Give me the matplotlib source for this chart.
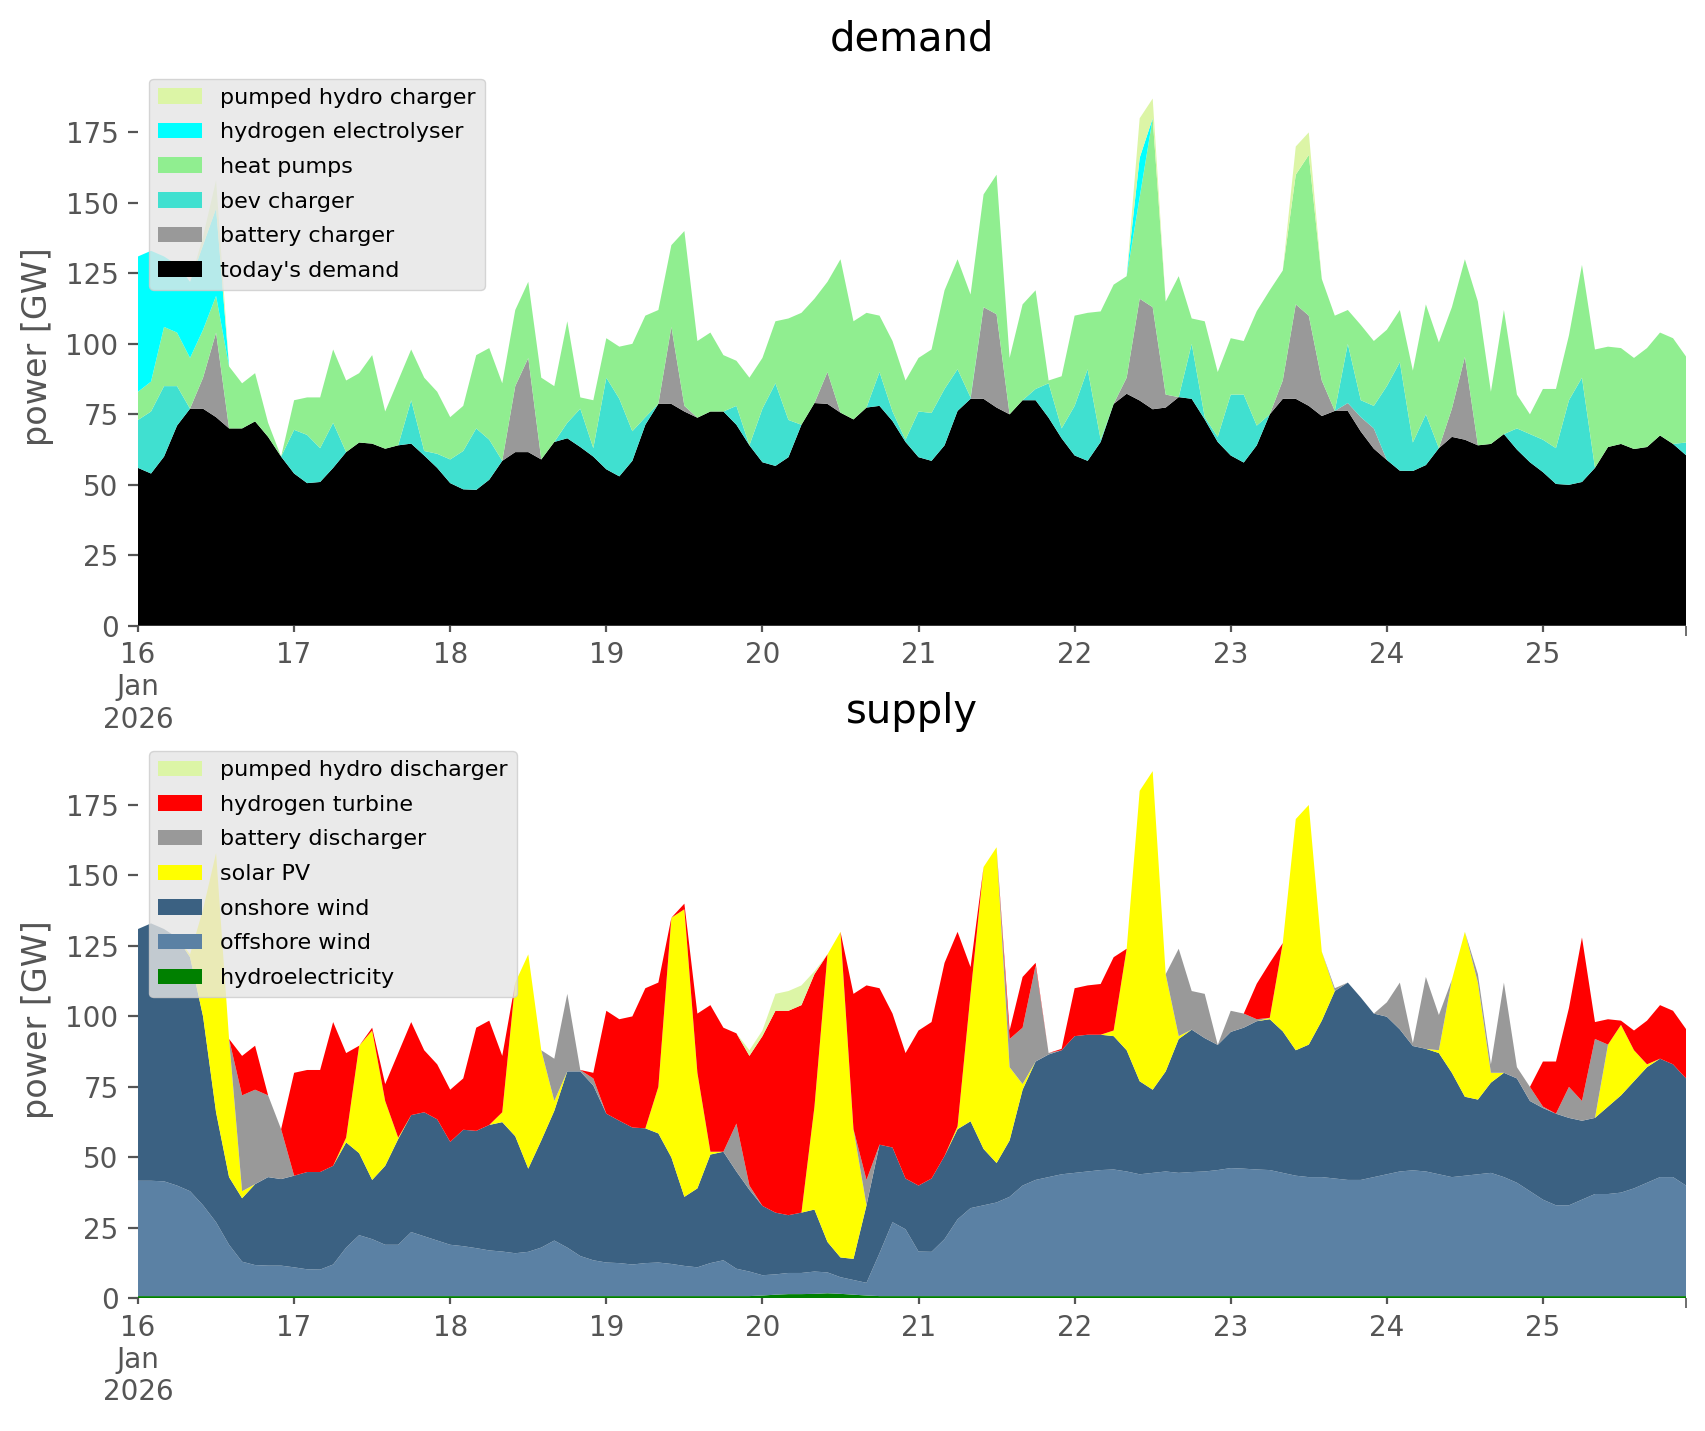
import pandas as pd
import matplotlib
matplotlib.use("Agg")
import matplotlib.pyplot as plt

# two-hourly values, 16 Jan 00:00 .. 25 Jan 22:00 (GW), one row per day
times = pd.date_range("2026-01-16 00:00", periods=120, freq="2h")

# ---- demand side ----
todays_demand = [
    56, 54, 60, 71, 77, 77, 74, 70, 70, 72.5, 67, 60,
    54, 50.6, 51, 56, 61.6, 65, 64.6, 62.8, 64, 64.6, 60.4, 56,
    50.6, 48.4, 48.2, 51.8, 58.5, 61.6, 61.6, 59, 65.2, 66.5, 63.4, 60,
    55.5, 53, 58.5, 71.3, 78.7, 78.7, 76, 73.8, 76, 76, 71.3, 64,
    58, 56.7, 59.8, 71.3, 79, 78.7, 75.6, 73.2, 77.4, 78, 72.6, 65.2,
    59.8, 58.5, 64, 76.2, 80.5, 80.5, 77.4, 75, 80, 80, 73.8, 66.5,
    60.4, 58.5, 65.2, 78.7, 82.3, 79.9, 76.8, 77.4, 81.1, 80.5, 73.2, 65.2,
    60.4, 57.9, 64, 75, 80.5, 80.5, 78, 74.4, 76.2, 76.2, 68.9, 62.8,
    58.8, 55, 54.9, 57, 63, 67, 66, 64, 64.5, 68, 62.5, 58,
    54.5, 50.3, 50, 51, 56, 63.4, 64.5, 62.7, 63.4, 67.5, 64.5, 60.5,
]
battery_charger = [
    0, 0, 0, 0, 0, 11, 30, 0, 0, 0, 0, 0,
    0, 0, 0, 0, 0, 0, 0, 0, 0, 0, 0, 0,
    0, 0, 0, 0, 0, 23.4, 33.4, 0, 0, 0, 0, 0,
    0, 0, 0, 0, 0, 27.3, 2, 0, 0, 0, 0, 0,
    0, 0, 0, 0, 0, 11.3, 0, 0, 0, 0, 0, 0,
    0, 0, 0, 0, 0, 32.5, 33.1, 0, 0, 0, 0, 0,
    0, 0, 0, 0, 5.7, 36.1, 36.2, 4.6, 0, 0, 0, 0,
    0, 0, 0, 0, 6.5, 33.5, 32, 12.6, 0, 2.8, 5.1, 7.2,
    0, 0, 0, 0, 0, 10, 29.4, 0, 0, 0, 0, 0,
    0, 0, 0, 0, 0, 0, 0, 0, 0, 0, 0, 0,
]
bev_charger = [
    17, 22, 25, 14, 0, 0, 0, 0, 0, 0, 0, 0,
    15.5, 17.1, 12, 16, 0, 0, 0, 0, 0, 15.4, 1.6, 5,
    8.4, 13.6, 21.8, 14.2, 0, 0, 0, 0, 0, 5.5, 13.6, 3,
    32.5, 27.5, 10.5, 2.7, 0, 0, 0, 0, 0, 0, 6.7, 0,
    19, 29.3, 13.2, 0, 0, 0, 0, 0, 0, 12, 3.4, 0.8,
    16.2, 17, 20, 14.8, 0.5, 0, 0, 0, 0, 4, 12.2, 3.5,
    17.6, 32.5, 0.8, 0, 0, 0, 0, 0, 0, 19.5, 0.8, 1.8,
    21.6, 24.1, 7, 0, 0, 0, 0, 0, 0, 21, 6, 8,
    26.2, 38.5, 10.1, 18, 0, 0, 0, 0, 0, 0, 7.5, 10,
    11.5, 12.7, 30, 37, 0, 0, 0, 0, 0, 0, 0, 4.5,
]
heat_pumps = [
    10, 10.6, 21, 19, 18, 17, 13, 22, 16, 17.1, 5, 0,
    10.5, 13.3, 18, 26, 25.4, 24.6, 31.4, 13.2, 23, 18, 26, 22,
    15, 16, 26, 32.5, 27.5, 27, 27, 29, 19.8, 36, 4, 17,
    14, 18.5, 31, 36, 33.3, 29, 62, 27.2, 28, 20, 16, 24,
    18, 22, 36, 39.7, 37, 32, 54.4, 34.8, 33.6, 20, 25, 21,
    19, 22.5, 35, 39, 36.5, 40, 49.5, 20, 34, 35, 1, 18.5,
    32, 20, 45.5, 42.3, 36, 36, 67, 33, 42.9, 9, 34, 23,
    20, 19, 40.6, 44, 39, 46, 57, 36, 33.8, 12, 26.7, 23,
    20, 18.5, 25.5, 39, 37.5, 36, 34.6, 51, 18.5, 44, 12, 7,
    18, 21, 23, 40, 42, 35.6, 34, 32.3, 35.1, 36.5, 37.5, 30.5,
]
hydrogen_electrolyser = [
    48, 46.4, 25, 24, 27, 30, 31, 0, 0, 0, 0, 0,
    0, 0, 0, 0, 0, 0, 0, 0, 0, 0, 0, 0,
    0, 0, 0, 0, 0, 0, 0, 0, 0, 0, 0, 0,
    0, 0, 0, 0, 0, 0, 0, 0, 0, 0, 0, 0,
    0, 0, 0, 0, 0, 0, 0, 0, 0, 0, 0, 0,
    0, 0, 0, 0, 0, 0, 0, 0, 0, 0, 0, 0,
    0, 0, 0, 0, 0, 14, 0, 0, 0, 0, 0, 0,
    0, 0, 0, 0, 0, 0, 0, 0, 0, 0, 0, 0,
    0, 0, 0, 0, 0, 0, 0, 0, 0, 0, 0, 0,
    0, 0, 0, 0, 0, 0, 0, 0, 0, 0, 0, 0,
]
pumped_hydro_charger = [
    0, 0, 0, 0, 0, 3, 10, 0, 0, 0, 0, 0,
    0, 0, 0, 0, 0, 0, 0, 0, 0, 0, 0, 0,
    0, 0, 0, 0, 0, 0, 0, 0, 0, 0, 0, 0,
    0, 0, 0, 0, 0, 0, 0, 0, 0, 0, 0, 0,
    0, 0, 0, 0, 0, 0, 0, 0, 0, 0, 0, 0,
    0, 0, 0, 0, 0, 0, 0, 0, 0, 0, 0, 0,
    0, 0, 0, 0, 0, 14, 7, 0, 0, 0, 0, 0,
    0, 0, 0, 0, 0, 10, 8, 0, 0, 0, 0, 0,
    0, 0, 0, 0, 0, 0, 0, 0, 0, 0, 0, 0,
    0, 0, 0, 0, 0, 0, 0, 0, 0, 0, 0, 0,
]

# ---- supply side ----
hydroelectricity = [
    0.8, 0.8, 0.8, 0.8, 0.8, 0.8, 0.8, 0.8, 0.8, 0.8, 0.8, 0.8,
    0.8, 0.8, 0.8, 0.8, 0.8, 0.8, 0.8, 0.8, 0.8, 0.8, 0.8, 0.8,
    0.8, 0.8, 0.8, 0.8, 0.8, 0.8, 0.8, 0.8, 0.8, 0.8, 0.8, 0.8,
    0.8, 0.8, 0.8, 0.8, 0.8, 0.8, 0.8, 0.8, 0.8, 0.8, 0.8, 0.8,
    1.0, 1.3, 1.5, 1.5, 1.6, 1.8, 1.6, 1.3, 1.0, 0.8, 0.8, 0.8,
    0.8, 0.8, 0.8, 0.8, 0.8, 0.8, 0.8, 0.8, 0.8, 0.8, 0.8, 0.8,
    0.8, 0.8, 0.8, 0.8, 0.8, 0.8, 0.8, 0.8, 0.8, 0.8, 0.8, 0.8,
    0.8, 0.8, 0.8, 0.8, 0.8, 0.8, 0.8, 0.8, 0.8, 0.8, 0.8, 0.8,
    0.8, 0.8, 0.8, 0.8, 0.8, 0.8, 0.8, 0.8, 0.8, 0.8, 0.8, 0.8,
    0.8, 0.8, 0.8, 0.8, 0.8, 0.8, 0.8, 0.8, 0.8, 0.8, 0.8, 0.8,
]
offshore_wind = [
    40.9, 40.9, 40.7, 39.2, 37.2, 32.2, 26.2, 18.2, 12.2, 11.0, 10.8, 10.8,
    10.2, 9.5, 9.4, 11.2, 17.2, 21.6, 20.2, 18.2, 18.2, 22.7, 21.2, 19.7,
    18.2, 17.7, 17.0, 16.2, 15.8, 15.2, 15.7, 17.2, 19.7, 17.2, 14.2, 12.7,
    11.9, 11.7, 11.2, 11.7, 11.9, 11.4, 10.7, 10.2, 11.7, 12.7, 9.7, 8.7,
    7.2, 7.2, 7.5, 7.5, 7.9, 7.4, 5.9, 5.2, 4.5, 15.2, 26.2, 23.7,
    15.8, 15.7, 20.2, 27.2, 31.2, 32.2, 33.2, 35.2, 39.2, 41.2, 42.2, 43.2,
    43.7, 44.2, 44.7, 44.9, 44.2, 43.2, 43.7, 44.2, 43.7, 44.0, 44.2, 44.7,
    45.4, 45.2, 44.9, 44.7, 43.7, 42.7, 42.2, 42.2, 41.7, 41.2, 41.2, 42.2,
    43.2, 44.2, 44.6, 44.2, 43.2, 42.2, 42.7, 43.2, 43.7, 42.2, 40.2, 37.2,
    34.2, 32.2, 32.2, 34.2, 36.2, 36.2, 36.7, 38.2, 40.2, 42.2, 42.2, 39.2,
]
onshore_wind = [
    89.3, 91.3, 89.5, 88, 83, 67, 39, 24, 22.5, 28.7, 31.4, 30.7,
    32.5, 34.5, 34.6, 35, 37.3, 29.1, 21, 28, 37.5, 41.5, 44, 43,
    36.5, 41.3, 41.6, 44.5, 45.9, 41.5, 29.5, 38, 46, 62.5, 65.5, 62,
    52.8, 50.5, 48.6, 47.8, 45.8, 37.8, 24.5, 28, 38.5, 38.5, 34.5, 29,
    24.6, 21.9, 20.5, 21.4, 22, 10.8, 7, 7.5, 27.5, 38.5, 26.5, 18,
    23.4, 26, 29.5, 32, 30.8, 20, 14, 20, 34, 42, 43.5, 44,
    48.5, 48.5, 48, 47.3, 43, 33, 29.5, 35.5, 47.5, 50.5, 47.3, 44.4,
    48.3, 50, 52.6, 53.5, 50.2, 44.5, 47, 55.5, 66.5, 70, 64.7, 58,
    55.9, 50.4, 44.1, 43.5, 43, 37, 28, 26.5, 32, 37, 37, 32,
    32.5, 32.5, 31, 28, 27, 31, 34.5, 38, 41, 42, 40, 38,
]
solar_pv = [
    0, 0, 0, 0, 1, 38, 92, 49, 2.5, 0, 0, 0,
    0, 0, 0, 0, 1.7, 38.1, 53, 23, 0.5, 0, 0, 0,
    0, 0, 0, 0, 3.5, 54.5, 76, 32, 3.5, 0, 0, 0,
    0, 0, 0, 0, 16.5, 85, 102, 41, 1, 0, 0, 0,
    0, 0, 0, 0, 36.5, 102, 115.5, 46, 0, 0, 0, 0,
    0, 0, 0, 1, 45.2, 100, 112, 26, 2, 0, 0, 0,
    0, 0, 0, 2, 36, 103, 113, 34.5, 1, 0, 0, 0,
    0, 0, 0, 0.5, 31.3, 82, 85, 24.5, 0, 0, 0, 0,
    0, 0, 0, 0, 1, 33, 58.5, 41.5, 3.5, 0, 0, 0,
    0, 0, 0, 0, 0, 22, 25, 11, 1, 0, 0, 0,
]
battery_discharger = [
    0, 0, 0, 0, 0, 0, 0, 0, 34, 33.5, 29, 17.7,
    0, 0, 0, 0, 0, 0, 0, 0, 0, 0, 0, 0,
    0, 0, 0, 0, 0, 0, 0, 0, 15, 27.5, 0.5, 2.5,
    0, 0, 0, 0, 0, 0, 0, 0, 0, 0, 17, 1.5,
    0, 0, 0, 0, 0, 0, 0, 0, 9, 0, 0, 0,
    0, 0, 0, 0, 0, 0, 0, 10, 20, 34, 0.5, 0,
    0, 0, 0, 0, 0, 0, 0, 0, 31, 13.7, 15.7, 0,
    7.5, 5, 0.7, 0, 0, 0, 0, 0, 1, 0, 0, 0,
    5.1, 16.6, 1, 25.5, 12.5, 0, 0, 3, 3, 32, 4, 5,
    0.5, 0, 11, 7, 28, 0, 0, 0, 0, 0, 0, 0,
]
hydrogen_turbine = [
    0, 0, 0, 0, 0, 0, 0, 0, 14, 15.6, 0, 0,
    36.5, 36.2, 36.2, 51, 30, 0, 1, 6, 30, 33, 22, 19.5,
    18.5, 18.2, 36.6, 37, 20, 0, 0, 0, 0, 0, 0, 2,
    36.5, 36, 39.4, 49.7, 37, 0, 2, 21, 52, 44, 32, 46,
    60.2, 71.6, 72.5, 73.6, 47, 0, 0, 48, 69, 55.5, 47.5, 44.5,
    55, 55.5, 68.5, 69, 9.5, 0, 0, 3, 18, 1, 0, 0.5,
    17, 17.5, 18, 26, 0, 0, 0, 0, 0, 0, 0, 0,
    0, 0, 12.6, 19.5, 0, 0, 0, 0, 0, 0, 0, 0,
    0, 0, 0, 0, 0, 0, 0, 0, 0, 0, 0, 0,
    16, 18.5, 28, 58, 6, 9, 1.5, 7, 15.5, 19, 19, 17.5,
]
pumped_hydro_discharger = [
    0, 0, 0, 0, 0, 0, 0, 0, 0, 0, 0, 0,
    0, 0, 0, 0, 0, 0, 0, 0, 0, 0, 0, 0,
    0, 0, 0, 0, 0, 0, 0, 0, 0, 0, 0, 0,
    0, 0, 0, 0, 0, 0, 0, 0, 0, 0, 0, 2,
    2, 6, 7, 7, 1, 0, 0, 0, 0, 0, 0, 0,
    0, 0, 0, 0, 0, 0, 0, 0, 0, 0, 0, 0,
    0, 0, 0, 0, 0, 0, 0, 0, 0, 0, 0, 0,
    0, 0, 0, 0, 0, 0, 0, 0, 0, 0, 0, 0,
    0, 0, 0, 0, 0, 0, 0, 0, 0, 0, 0, 0,
    0, 0, 0, 0, 0, 0, 0, 0, 0, 0, 0, 0,
]

demand_labels = ["today's demand", "battery charger", "bev charger",
                 "heat pumps", "hydrogen electrolyser", "pumped hydro charger"]
demand_colors = ["black", "#999999", "turquoise", "lightgreen", "cyan", "#dcf5a6"]
supply_labels = ["hydroelectricity", "offshore wind", "onshore wind", "solar PV",
                 "battery discharger", "hydrogen turbine", "pumped hydro discharger"]
supply_colors = ["green", "#5b81a4", "#3b6182", "yellow", "#999999", "red", "#dcf5a6"]

plt.style.use("ggplot")

fig = plt.figure(figsize=(1706 / 200, 1431 / 200), dpi=200)
ax1 = fig.add_axes([0.0809, 0.5627, 0.9074, 0.3901])
ax2 = fig.add_axes([0.0809, 0.0927, 0.9074, 0.3901])


def area_plot(ax, series, labels, colors, title):
    ax.stackplot(times, *series, labels=labels, colors=colors, linewidth=0)
    ax.set_facecolor("white")
    ax.grid(False)
    for sp in ax.spines.values():
        sp.set_visible(False)
    ax.set_xlim(times[0], times[-1])
    ax.set_ylim(0, 198)
    ax.set_title(title, color="black")
    ax.set_ylabel("power [GW]")
    days = pd.date_range("2026-01-16", "2026-01-25", freq="D")
    ax.set_xticks(days)
    ax.set_xticklabels(["16\nJan\n2026"] + [str(d.day) for d in days[1:]])
    ax.tick_params(axis="x", length=2)
    ax.set_xticks([times[-1]], minor=True)
    ax.tick_params(axis="x", which="minor", length=3.5)
    h, l = ax.get_legend_handles_labels()
    ax.legend(h[::-1], l[::-1], loc="upper left", facecolor="#e5e5e5",
              fontsize=8, labelspacing=0.66)


area_plot(ax1, [todays_demand, battery_charger, bev_charger, heat_pumps,
                hydrogen_electrolyser, pumped_hydro_charger],
          demand_labels, demand_colors, "demand")
area_plot(ax2, [hydroelectricity, offshore_wind, onshore_wind, solar_pv,
                battery_discharger, hydrogen_turbine, pumped_hydro_discharger],
          supply_labels, supply_colors, "supply")

fig.savefig("out.png", dpi=200)
